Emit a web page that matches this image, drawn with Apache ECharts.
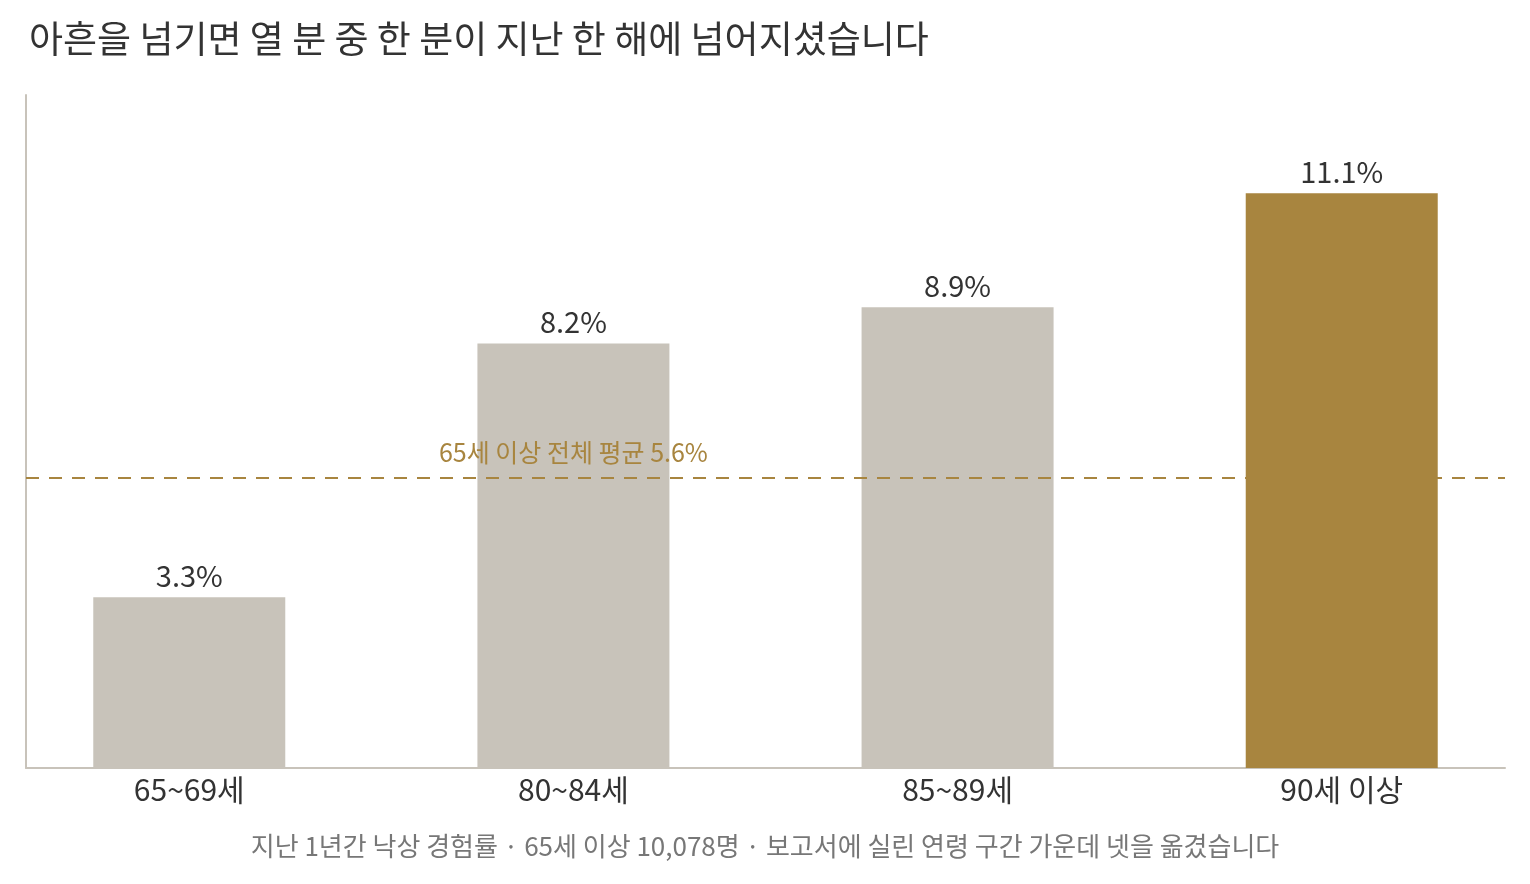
<!DOCTYPE html>
<html>
<head>
<meta charset="utf-8">
<script src="https://cdn.jsdelivr.net/npm/echarts@6/dist/echarts.min.js"></script>
<style>
  html, body { margin: 0; padding: 0; background: #fff; }
  #chart { width: 1530px; height: 884px; }
</style>
</head>
<body>
<div id="chart"></div>
<script>
// 연령 구간별 지난 1년간 낙상 경험률 (%)
const ageGroups = ['65~69세', '80~84세', '85~89세', '90세 이상'];
const fallRates = [3.3, 8.2, 8.9, 11.1];
const overallMean = 5.6;
const highlightIndex = 3;

const FONT = '"Noto Sans CJK KR", "Noto Sans", sans-serif';
const GREY = '#c8c3ba';
const GOLD = '#a8853f';

// 막대 위치는 구간 순번(0,1,2,3)으로, 양 끝 여백은 0.425칸
const positions = ageGroups.map((_, i) => i);

const chart = echarts.init(document.getElementById('chart'), null, { renderer: 'canvas' });

chart.setOption({
  animation: false,
  textStyle: { fontFamily: FONT },
  title: [
    {
      text: '아흔을 넘기면 열 분 중 한 분이 지난 한 해에 넘어지셨습니다',
      left: 24,
      top: 15,
      textStyle: { fontFamily: FONT, fontSize: 37, fontWeight: 'normal', color: '#333' }
    },
    {
      text: '지난 1년간 낙상 경험률 · 65세 이상 10,078명 · 보고서에 실린 연령 구간 가운데 넷을 옮겼습니다',
      left: 'center',
      top: 828,
      textStyle: { fontFamily: FONT, fontSize: 26, fontWeight: 'normal', color: '#777' }
    }
  ],
  grid: { left: 26, right: 25, top: 95, bottom: 116, containLabel: false },
  xAxis: {
    type: 'value',
    min: -0.425,
    max: ageGroups.length - 1 + 0.425,
    axisLine: { onZero: false, lineStyle: { color: GREY, width: 2 } },
    axisTick: { show: false },
    splitLine: { show: false },
    axisLabel: {
      customValues: positions,
      fontSize: 30,
      color: '#333',
      margin: 7,
      fontFamily: FONT,
      formatter: v => ageGroups[Math.round(v)]
    }
  },
  yAxis: {
    type: 'value',
    min: 0,
    max: 13,
    axisLine: { show: true, onZero: false, lineStyle: { color: GREY, width: 2 } },
    axisTick: { show: false },
    axisLabel: { show: false },
    splitLine: { show: false }
  },
  series: [{
    type: 'bar',
    barWidth: 192,
    data: fallRates.map((v, i) => ({
      value: [positions[i], v],
      itemStyle: { color: i === highlightIndex ? GOLD : GREY }
    })),
    label: {
      show: true,
      position: 'top',
      distance: 7,
      fontSize: 29,
      color: '#333',
      fontFamily: FONT,
      formatter: p => p.value[1].toFixed(1) + '%'
    },
    markLine: {
      symbol: 'none',
      silent: true,
      label: { show: false },
      lineStyle: { color: GOLD, type: [13, 10], width: 2 },
      data: [{ yAxis: overallMean }]
    },
    markPoint: {
      symbol: 'circle',
      symbolSize: 0,
      silent: true,
      data: [{ coord: [positions[1], overallMean] }],
      label: {
        show: true,
        position: 'top',
        distance: 13,
        fontSize: 25,
        color: GOLD,
        fontFamily: FONT,
        formatter: '65세 이상 전체 평균 ' + overallMean.toFixed(1) + '%'
      }
    }
  }]
});
</script>
</body>
</html>
